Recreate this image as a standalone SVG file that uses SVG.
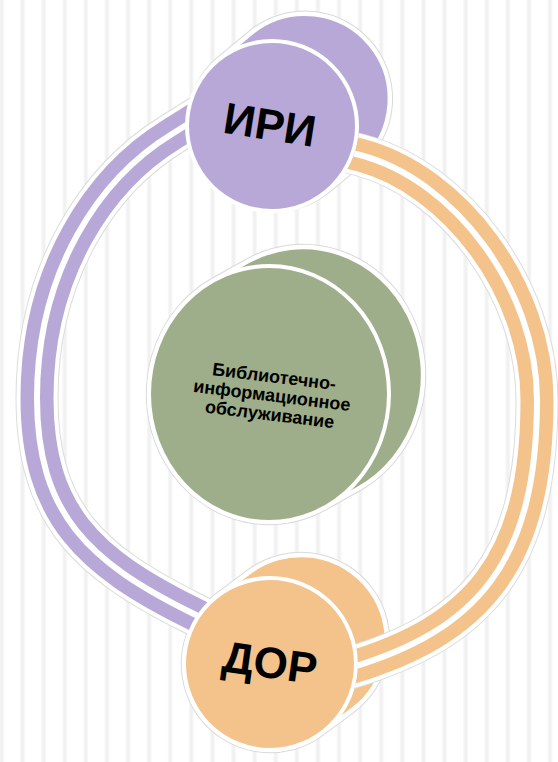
<svg xmlns="http://www.w3.org/2000/svg" xmlns:xlink="http://www.w3.org/1999/xlink" width="558" height="762" viewBox="0 0 558 762">
<defs>
<pattern id="stripes" patternUnits="userSpaceOnUse" x="-1" y="0" width="21.1" height="762">
<rect x="0" y="0" width="5" height="762" fill="#f7f7f7"/>
<rect x="1.5" y="0" width="2" height="762" fill="#f0f0f0"/>
</pattern>
<style>
.hull-o{stroke:#d9d9d9;stroke-width:6.5;fill:none}
.hull{stroke:#ffffff;stroke-width:4.5}
.face{stroke:#ffffff;stroke-width:4}
.purple{fill:#b7a8d7}
.green{fill:#9fae8a}
.orange{fill:#f4c38b}
.big{font-family:"Liberation Sans",Arial,sans-serif;font-weight:bold;font-size:44px;fill:#000;text-anchor:middle}
.small{font-family:"Liberation Sans",Arial,sans-serif;font-weight:bold;font-size:18px;fill:#000;text-anchor:middle}
.ring-o{fill:none;stroke:#dcdcdc;stroke-width:43;stroke-linecap:butt}
.ring-w{fill:none;stroke:#ffffff;stroke-width:41;stroke-linecap:butt}
.ring-c{fill:none;stroke-width:33;stroke-linecap:butt}
.ring-g{fill:none;stroke:#ffffff;stroke-width:6;stroke-linecap:butt}
</style>
<path id="purpleLine" d="M215 107 L172 134 C100 178 37 270 37 398 C37 515 90 562 190 612 L235 634.5"/>
<path id="orangeLine" d="M320 145 L360 155 C455 180 537 290 537 400 C537 565 474.8 630.3 350 668 L320 677"/>
<mask id="faceMask" maskUnits="userSpaceOnUse" x="0" y="0" width="558" height="762">
<rect x="0" y="0" width="558" height="762" fill="#fff"/>
<circle cx="272" cy="126" r="87" fill="#000"/>
<circle cx="270" cy="664" r="88" fill="#000"/>
</mask>
</defs>
<rect x="0" y="0" width="558" height="762" fill="#ffffff"/>
<rect x="0" y="0" width="558" height="762" fill="url(#stripes)"/>

<g id="node-iri">
<path class="hull-o" d="M326.1 191.5 L361.1 162.5 A85 85 0 0 0 252.9 31.5 L217.9 60.5 A85 85 0 0 0 326.1 191.5 Z"/>
<path class="hull purple" d="M326.1 191.5 L361.1 162.5 A85 85 0 0 0 252.9 31.5 L217.9 60.5 A85 85 0 0 0 326.1 191.5 Z"/>
<circle class="face purple" cx="272" cy="126" r="85"/>
<text class="big" transform="translate(270,124) rotate(9)" y="16">ИРИ</text>
</g>

<g id="node-service">
<path class="hull-o" d="M324.7 507.4 L358.7 488.4 A120 128 0 0 0 247.3 261.6 L213.3 280.6 A120 128 0 0 0 324.7 507.4 Z"/>
<path class="hull green" d="M324.7 507.4 L358.7 488.4 A120 128 0 0 0 247.3 261.6 L213.3 280.6 A120 128 0 0 0 324.7 507.4 Z"/>
<ellipse class="face green" cx="269" cy="394" rx="120" ry="128"/>
<g transform="translate(272,395) rotate(7)">
<text class="small" x="0" y="-12.5">Библиотечно-</text>
<text class="small" x="0" y="6.5">информационное</text>
<text class="small" x="0" y="25.5">обслуживание</text>
</g>
</g>

<g id="node-dor">
<path class="hull-o" d="M321.3 733.1 L352.3 710.1 A86 86 0 0 0 249.7 571.9 L218.7 594.9 A86 86 0 0 0 321.3 733.1 Z"/>
<path class="hull orange" d="M321.3 733.1 L352.3 710.1 A86 86 0 0 0 249.7 571.9 L218.7 594.9 A86 86 0 0 0 321.3 733.1 Z"/>
<circle class="face orange" cx="270" cy="664" r="86"/>
<text class="big" transform="translate(270,662) rotate(8)" y="16">ДОР</text>
</g>

<g id="connectors" mask="url(#faceMask)">
<use xlink:href="#purpleLine" class="ring-o"/>
<use xlink:href="#purpleLine" class="ring-w"/>
<use xlink:href="#purpleLine" class="ring-c" stroke="#b7a8d7"/>
<use xlink:href="#purpleLine" class="ring-g"/>
<use xlink:href="#orangeLine" class="ring-o"/>
<use xlink:href="#orangeLine" class="ring-w"/>
<use xlink:href="#orangeLine" class="ring-c" stroke="#f4c38b"/>
<use xlink:href="#orangeLine" class="ring-g"/>
</g>
</svg>
